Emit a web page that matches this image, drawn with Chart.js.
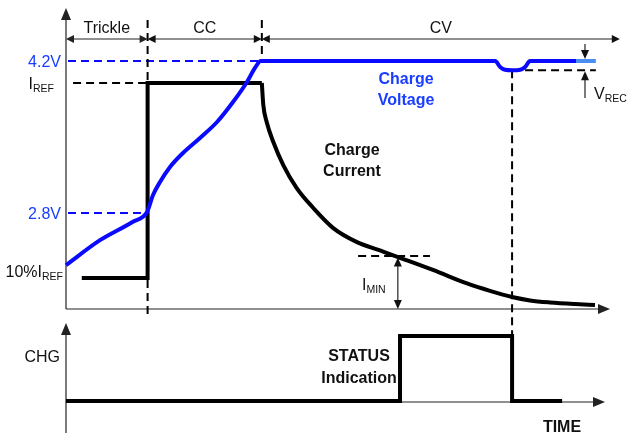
<!DOCTYPE html>
<html><head><meta charset="utf-8">
<script src="https://cdn.jsdelivr.net/npm/chart.js@4.4.0/dist/chart.umd.min.js"></script>
<style>html,body{margin:0;padding:0;background:#fff}#wrap{width:629px;height:433px;position:relative}</style>
</head><body><div id="wrap"><canvas id="c" width="629" height="433"></canvas></div>
<script>
// ---- data (time in arbitrary units, 0..100 along the time axis) ----
const voltTime  = [0,6.25,12.3,14.9,16.0,17.28,19.12,21.51,24.63,27.76,30.7,33.27,34.74,35.8,50,65,78.9,79.8,80.7,82,83.5,84.4,85.3,90,93.75,97.4];
const voltValue = [2.32,2.55,2.72,2.81,2.966,3.086,3.224,3.353,3.491,3.638,3.822,4.007,4.136,4.20,4.20,4.20,4.20,4.145,4.12,4.115,4.12,4.145,4.20,4.20,4.20,4.20];
const curStepTime  = [2.9,15,15,36];
const curStepValue = [0.137,0.137,1,1];
const curDecayTime  = [36,36.27,36.89,38.11,39.94,42.41,45.46,49.13,53.49,57.72,61.03,67.46,73.71,77.94,81.99,85.29,88.97,93.57,97.24];
const curDecayValue = [1.0,0.903,0.827,0.739,0.637,0.535,0.447,0.358,0.296,0.259,0.230,0.173,0.113,0.080,0.053,0.038,0.029,0.022,0.018];
const statTime  = [0,61.4,61.4,82,82,91.2];
const statValue = [0,0,1,1,0,0];
const phaseNames = ['Trickle','CC','CV'];
const phaseStart = [0,15,36];
const phaseEnd   = [15,36,101.8];
const vTickValues = [4.2,2.8];
const vTickLabels = ['4.2V','2.8V'];
const iTickValues = [1,0.137];
const iTickMain   = ['I','10%I'];
const iTickSub    = ['REF','REF'];
const recoveryLevel = 4.115;
const iMinLevel = 0.2345;
const iMinTime = 61;
const termTime = 82;
const lightTailStart = 93.75;

// ---- styles / layout ----
const BLUE = '#0a0aff', LBLUE = '#4a8ef2', TBLUE = '#1a3dff', BLACK = '#000', AXIS = '#222', TXT = '#111';
const FONT = '"Liberation Sans", Arial, sans-serif';
const pts = (xs, ys) => xs.map((x, i) => ({x, y: ys[i]}));

function hline(ctx,x1,y,x2){ctx.beginPath();ctx.moveTo(x1,y);ctx.lineTo(x2,y);ctx.stroke();}
function vline(ctx,x,y1,y2){ctx.beginPath();ctx.moveTo(x,y1);ctx.lineTo(x,y2);ctx.stroke();}
function head(ctx,x,y,dir,len,half){
  ctx.beginPath();ctx.moveTo(x,y);
  if(dir==='up'){ctx.lineTo(x-half,y+len);ctx.lineTo(x+half,y+len);}
  if(dir==='down'){ctx.lineTo(x-half,y-len);ctx.lineTo(x+half,y-len);}
  if(dir==='left'){ctx.lineTo(x+len,y-half);ctx.lineTo(x+len,y+half);}
  if(dir==='right'){ctx.lineTo(x-len,y-half);ctx.lineTo(x-len,y+half);}
  ctx.closePath();ctx.fill();
}
function subText(ctx,main,sub,x,y,align,color,bold){
  const mf=(bold?'bold ':'')+'16px '+FONT, sf='10.5px '+FONT;
  ctx.font=mf;const w1=ctx.measureText(main).width;
  ctx.font=sf;const w2=ctx.measureText(sub).width;
  let x0=align==='right'?x-w1-w2:(align==='center'?x-(w1+w2)/2:x);
  ctx.fillStyle=color;ctx.textAlign='left';ctx.textBaseline='alphabetic';
  ctx.font=mf;ctx.fillText(main,x0,y);
  ctx.font=sf;ctx.fillText(sub,x0+w1,y+3);
}
function text(ctx,s,x,y,align,color,bold){
  ctx.font=(bold?'bold ':'')+'16px '+FONT;ctx.fillStyle=color;ctx.textAlign=align;ctx.textBaseline='alphabetic';ctx.fillText(s,x,y);
}

const decor = {
  id:'decor',
  beforeDatasetsDraw(chart){
    const {ctx, scales:{x, yV, yI, yS}} = chart;
    const X=v=>x.getPixelForValue(v);
    ctx.save();
    ctx.strokeStyle=AXIS;ctx.fillStyle=AXIS;ctx.lineWidth=1.2;ctx.setLineDash([]);
    const x0=X(0), yI0=yI.getPixelForValue(0), yS0=yS.getPixelForValue(0)+1;
    vline(ctx,x0,14,yI0); head(ctx,x0,8,'up',12,5);
    hline(ctx,x0,yI0,600); head(ctx,610,yI0,'right',12,5);
    vline(ctx,x0,330,433); head(ctx,x0,323,'up',12,5);
    hline(ctx,x0,yS0,596); head(ctx,605,yS0,'right',12,5);
    ctx.lineWidth=2;ctx.setLineDash([8,5]);
    ctx.strokeStyle=BLUE;
    hline(ctx,X(0)+2,yV.getPixelForValue(vTickValues[0]),X(phaseStart[2]));
    hline(ctx,X(0)+2,yV.getPixelForValue(vTickValues[1]),X(phaseStart[1]));
    ctx.strokeStyle=BLACK;
    hline(ctx,X(1.3),yI.getPixelForValue(iTickValues[0]),X(phaseStart[1]));
    hline(ctx,X(53.7),yI.getPixelForValue(iMinLevel),X(66.9));
    hline(ctx,X(termTime),yV.getPixelForValue(recoveryLevel),X(97.4));
    vline(ctx,X(phaseStart[1]),20,318);
    vline(ctx,X(phaseStart[2]),20,yV.getPixelForValue(4.2));
    vline(ctx,X(termTime),yV.getPixelForValue(recoveryLevel),yS.getPixelForValue(1));
    ctx.restore();
  },
  afterDatasetsDraw(chart){
    const {ctx, scales:{x, yV, yI, yS}} = chart;
    const X=v=>x.getPixelForValue(v);
    ctx.save();
    ctx.strokeStyle=AXIS;ctx.fillStyle=AXIS;ctx.lineWidth=1.2;ctx.setLineDash([]);
    const pa=39;
    phaseNames.forEach((n,i)=>{
      const a=X(phaseStart[i]), b=X(phaseEnd[i]);
      hline(ctx,a+4,pa,b-4);
      head(ctx,a,pa,'left',8,4); head(ctx,b,pa,'right',8,4);
      text(ctx,n,(a+b)/2,33,'center',TXT,false);
    });
    const xm=X(iMinTime), ym=yI.getPixelForValue(0.228), y0=yI.getPixelForValue(0);
    vline(ctx,xm,ym+6,y0-6); head(ctx,xm,ym,'up',9,4); head(ctx,xm,y0,'down',9,4);
    const xr=585, yr=yV.getPixelForValue(recoveryLevel), yt=yV.getPixelForValue(4.2);
    vline(ctx,xr,44,yt-6); head(ctx,xr,yt-2,'down',9,4);
    vline(ctx,xr,yr+6,98); head(ctx,xr,yr+1,'up',9,4);
    vTickLabels.forEach((l,i)=>text(ctx,l,61,yV.getPixelForValue(vTickValues[i])+6,'right',TBLUE,false));
    subText(ctx,iTickMain[0],iTickSub[0],54,yI.getPixelForValue(iTickValues[0])+6,'right',TXT,false);
    subText(ctx,iTickMain[1],iTickSub[1],63,yI.getPixelForValue(iTickValues[1])-1,'right',TXT,false);
    subText(ctx,'I','MIN',362,290,'left',TXT,false);
    subText(ctx,'V','REC',594,99,'left',TXT,false);
    text(ctx,'CHG',60,362,'right',TXT,false);
    text(ctx,'Charge',406,84,'center',TBLUE,true);
    text(ctx,'Voltage',406,105,'center',TBLUE,true);
    text(ctx,'Charge',352,155,'center',TXT,true);
    text(ctx,'Current',352,176,'center',TXT,true);
    text(ctx,'STATUS',359,361,'center',TXT,true);
    text(ctx,'Indication',359,383,'center',TXT,true);
    text(ctx,'TIME',562,432,'center',TXT,true);
    ctx.restore();
  }
};

new Chart(document.getElementById('c'), {
  type:'line',
  data:{datasets:[
    {data:pts(voltTime,voltValue),yAxisID:'yV',borderColor:BLUE,borderWidth:4,pointRadius:0,cubicInterpolationMode:'monotone',clip:false,
     segment:{borderColor:c=>c.p0.parsed.x>=lightTailStart-0.01?LBLUE:BLUE}},
    {data:pts(curStepTime,curStepValue),yAxisID:'yI',borderColor:BLACK,borderWidth:4,pointRadius:0,tension:0,borderJoinStyle:'miter',clip:false},
    {data:pts(curDecayTime,curDecayValue),yAxisID:'yI',borderColor:BLACK,borderWidth:4,pointRadius:0,cubicInterpolationMode:'monotone',clip:false},
    {data:pts(statTime,statValue),yAxisID:'yS',borderColor:BLACK,borderWidth:4,pointRadius:0,tension:0,borderJoinStyle:'miter',clip:false}
  ]},
  options:{
    responsive:false,animation:false,devicePixelRatio:1,
    layout:{padding:{left:66,right:19,top:0,bottom:0}},
    plugins:{legend:{display:false},tooltip:{enabled:false}},
    scales:{
      x:{type:'linear',min:0,max:100,display:false},
      yV:{type:'linear',min:0.7737,max:4.7618,display:false},
      yI:{type:'linear',min:-0.5487,max:1.3673,display:false},
      yS:{type:'linear',min:-0.4923,max:6.1692,display:false}
    }
  },
  plugins:[decor]
});
</script></body></html>
